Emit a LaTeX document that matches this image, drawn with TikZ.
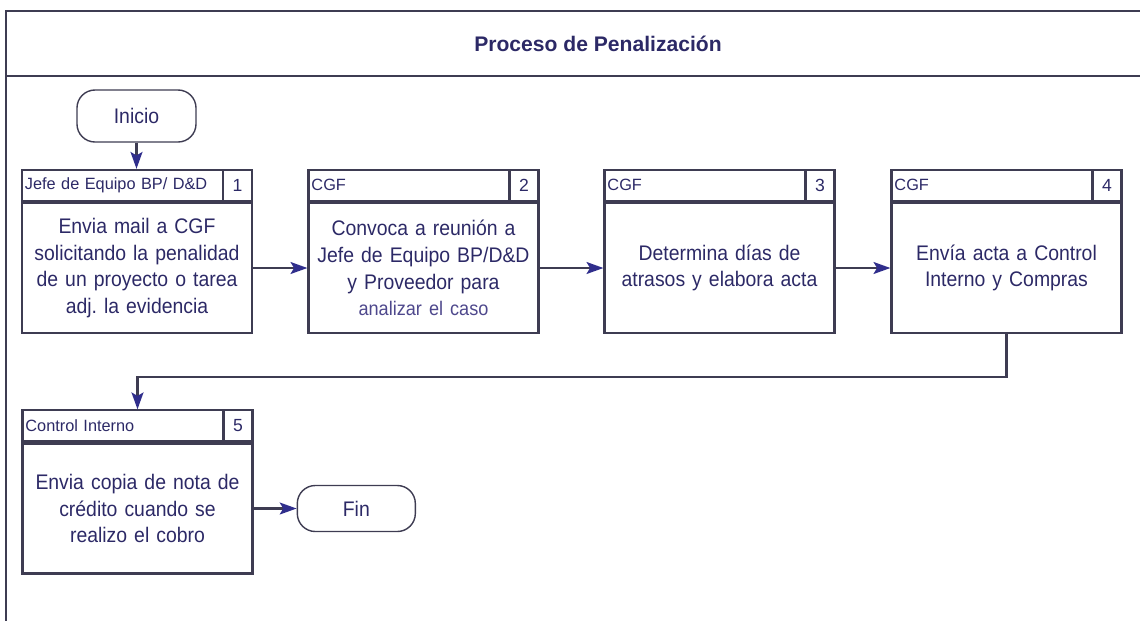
\documentclass[tikz,border=0pt]{standalone}
\usepackage{fontspec}
\setmainfont{Liberation Sans}
\newfontfamily\narrowsans{Liberation Sans}[FakeStretch=0.92]
\usetikzlibrary{arrows.meta, positioning}
\usepackage{xcolor}

\definecolor{txtblue}{RGB}{44,41,102}
\definecolor{lightblue}{RGB}{78,72,140}
\definecolor{linegray}{RGB}{62,60,82}
\definecolor{tipblue}{RGB}{48,46,140}

\tikzset{
  body/.style={draw=linegray, line width=1.5pt, minimum width=5.75cm, minimum height=3.25cm,
    text width=5.4cm, inner sep=2pt, align=center, text=txtblue,
    font=\narrowsans\fontsize{15}{19}\selectfont},
  head/.style={draw=linegray, line width=1.5pt, minimum height=0.775cm, text width=4.875cm,
    inner xsep=0.075cm, inner ysep=0pt, align=left, anchor=south west, text=txtblue,
    font=\fontsize{11.6}{13}\selectfont},
  num/.style={draw=linegray, line width=1.5pt, minimum height=0.775cm, minimum width=0.725cm,
    inner sep=0pt, anchor=south east, text=txtblue, font=\fontsize{12.5}{13}\selectfont},
  term/.style={draw=linegray, line width=1pt, rounded corners=0.45cm, minimum width=2.95cm,
    minimum height=1.15cm, text=txtblue, font=\narrowsans\fontsize{15}{16}\selectfont},
  conn/.style={draw=linegray, line width=1.5pt,
    -{Stealth[length=12pt, width=8.5pt, inset=2.5pt, color=tipblue]}}
}

\begin{document}
\begin{tikzpicture}[x=0.025cm, y=-0.025cm]
  \useasboundingbox (0,0) rectangle (1140,621);

  % Sheet frame and title
  \draw[linegray, line width=1.5pt] (1140,11) -- (6,11) -- (6,621);
  \draw[linegray, line width=1.5pt] (6,76) -- (1140,76);
  \node[text=txtblue, font=\bfseries\fontsize{15}{16}\selectfont] (title) at (598,44) {Proceso de Penalización};

  % Start
  \node[term, minimum width=2.975cm, minimum height=1.3cm] (inicio) at (136.5,116) {Inicio};

  % Step 1 (Jefe de Equipo)
  \node[body] (b1) at (137,268) {Envia mail a CGF\\solicitando la penalidad\\de un proyecto o tarea\\adj.\ la evidencia};
  \node[head] (h1) at (b1.north west) {Jefe de Equipo BP/ D\&D};
  \node[num] (n1) at (b1.north east) {1};

  % Step 2 (CGF)
  \node[body] (b2) at (423.5,268) {Convoca a reunión a\\Jefe de Equipo BP/D\&D\\y Proveedor para\\{\color{lightblue}\fontsize{14}{19}\selectfont analizar el caso}};
  \node[head] (h2) at (b2.north west) {CGF};
  \node[num] (n2) at (b2.north east) {2};

  % Step 3 (CGF)
  \node[body] (b3) at (719.5,268) {Determina días de\\atrasos y elabora acta};
  \node[head] (h3) at (b3.north west) {CGF};
  \node[num] (n3) at (b3.north east) {3};

  % Step 4 (CGF)
  \node[body] (b4) at (1006.5,268) {Envía acta a Control\\Interno y Compras};
  \node[head] (h4) at (b4.north west) {CGF};
  \node[num] (n4) at (b4.north east) {4};

  % Step 5 (Control Interno)
  \node[body] (b5) at (137.5,508.5) {Envia copia de nota de\\crédito cuando se\\realizo el cobro};
  \node[head] (h5) at (b5.north west) {Control Interno};
  \node[num] (n5) at (b5.north east) {5};

  % End
  \node[term, right=1.075cm of b5] (fin) {Fin};

  % Connectors
  \draw[conn] (inicio) -- (inicio |- h1.north);
  \draw[conn] (b1.east) -- (b2.west);
  \draw[conn] (b2.east) -- (b3.west);
  \draw[conn] (b3.east) -- (b4.west);
  \draw[conn] (b4.south) -- ++(0,43) -| (b5.north |- h5.north);
  \draw[conn] (b5.east) -- (fin.west);
\end{tikzpicture}
\end{document}
